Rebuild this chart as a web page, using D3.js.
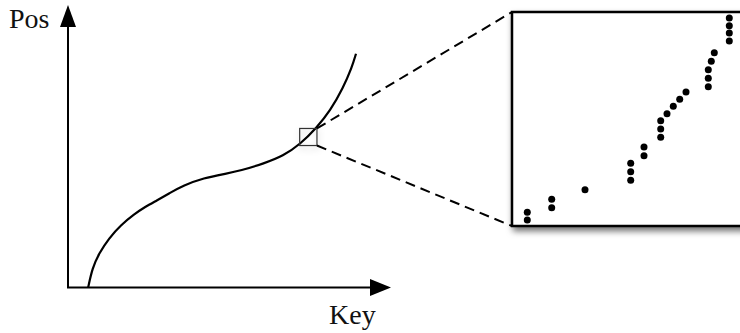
<!DOCTYPE html>
<html>
<head>
<meta charset="utf-8">
<script src="https://cdn.jsdelivr.net/npm/d3@7"></script>
<style>
html,body{margin:0;padding:0;background:#fff;overflow:hidden;}
svg{display:block;}
</style>
</head>
<body>
<script>
// Main curve: key (0-100) vs position (0-100)
const curveKeys = [6.3, 7.6, 9.7, 12.8, 16.5, 20.6, 24.1, 27.8, 31.9, 36.0, 42.3, 49.6, 53.8, 61.0, 67.3, 72.5, 77.7, 81.9, 86.0, 88.7, 90.0];
const curvePos  = [0.0, 6.9, 12.2, 17.6, 22.3, 26.1, 28.8, 31.1, 33.8, 36.4, 39.1, 40.7, 41.7, 44.2, 47.0, 51.1, 57.1, 63.0, 71.4, 78.5, 83.5];

// Zoomed-in records: key vs position
const zoomKeys = [15.3, 15.3, 39.7, 39.7, 73, 118.7, 118.7, 118.7, 132, 132, 148.7, 148.7, 148.7, 155, 161.3, 167.7, 174, 196.3, 196.3, 196.3, 199.3, 202.3, 217.3, 217.3, 217.3, 217.3];
const zoomPos  = [7, 14.7, 19.3, 27.7, 37.3, 46.7, 55.3, 63.7, 71.3, 80, 89.7, 98, 106.3, 113.3, 120.7, 127.7, 135, 140.3, 148.7, 157.3, 165.7, 174.3, 186, 194, 201.3, 209];

const axisLabels = ["Pos", "Key"];

const W = 740, H = 333;
const svg = d3.select("body").append("svg").attr("width", W).attr("height", H);

const defs = svg.append("defs");
const f = defs.append("filter").attr("id", "shadow").attr("x", "-20%").attr("y", "-20%").attr("width", "150%").attr("height", "150%");
f.append("feDropShadow").attr("dx", 2).attr("dy", 4).attr("stdDeviation", 3).attr("flood-color", "#000").attr("flood-opacity", 0.55);
const f2 = defs.append("filter").attr("id", "shadow2").attr("x", "-60%").attr("y", "-60%").attr("width", "250%").attr("height", "250%");
f2.append("feDropShadow").attr("dx", 1).attr("dy", 3).attr("stdDeviation", 3).attr("flood-color", "#000").attr("flood-opacity", 0.2);

// Main scales
const x = d3.scaleLinear().domain([0, 100]).range([68, 388]);
const y = d3.scaleLinear().domain([0, 100]).range([287.5, 7.5]);

// Axes
const ax = svg.append("g").attr("stroke", "#000").attr("stroke-width", 2);
ax.append("line").attr("x1", x(0)).attr("y1", y(0)).attr("x2", x(0)).attr("y2", 24);
ax.append("line").attr("x1", x(0) - 1).attr("y1", y(0)).attr("x2", 372).attr("y2", y(0));
svg.append("path").attr("d", `M${x(0)},5 L${x(0)+8},27 L${x(0)-8},27 Z`).attr("fill", "#000");
svg.append("path").attr("d", `M391,${y(0)} L370,${y(0)-8.5} L370,${y(0)+8.5} Z`).attr("fill", "#000");

svg.append("text").attr("x", 9).attr("y", 28).attr("font-family", "Liberation Serif, Times New Roman, serif")
  .attr("font-size", 28).attr("fill", "#111").text(axisLabels[0]);
svg.append("text").attr("x", 329).attr("y", 324).attr("font-family", "Liberation Serif, Times New Roman, serif")
  .attr("font-size", 28).attr("fill", "#111").text(axisLabels[1]);

// Curve
const pts = curveKeys.map((k, i) => [k, curvePos[i]]);
svg.append("path").datum(pts)
  .attr("d", d3.line().x(d => x(d[0])).y(d => y(d[1])).curve(d3.curveBasis))
  .attr("fill", "none").attr("stroke", "#000").attr("stroke-width", 2.2);

// Zoom window on main chart
const win = {k0: 72.4, k1: 77.8, p0: 50.7, p1: 56.8};
const sq = {x0: x(win.k0), x1: x(win.k1), y0: y(win.p1), y1: y(win.p0)};
svg.append("rect").attr("x", sq.x0).attr("y", sq.y0).attr("width", sq.x1 - sq.x0).attr("height", sq.y1 - sq.y0)
  .attr("fill", "none").attr("stroke", "#333").attr("stroke-width", 1.2).attr("filter", "url(#shadow2)");

// Inset box
const box = {x0: 512, y0: 12, x1: 745, y1: 226};
const dash = svg.append("g").attr("stroke", "#000").attr("stroke-width", 2).attr("stroke-dasharray", "10,6");
dash.append("line").attr("x1", sq.x1).attr("y1", sq.y0).attr("x2", box.x0).attr("y2", box.y0);
dash.append("line").attr("x1", sq.x1).attr("y1", sq.y1).attr("x2", box.x0).attr("y2", box.y1);

svg.append("rect").attr("x", box.x0).attr("y", box.y0).attr("width", box.x1 - box.x0).attr("height", box.y1 - box.y0)
  .attr("fill", "#fff").attr("stroke", "#000").attr("stroke-width", 2.5).attr("filter", "url(#shadow)");

const zx = d3.scaleLinear().domain([0, 230]).range([512, 742]);
const zy = d3.scaleLinear().domain([0, 215]).range([227, 12]);
svg.append("g").selectAll("circle").data(zoomKeys.map((k, i) => [k, zoomPos[i]])).join("circle")
  .attr("cx", d => zx(d[0])).attr("cy", d => zy(d[1])).attr("r", 3.5).attr("fill", "#000");
</script>
</body>
</html>
